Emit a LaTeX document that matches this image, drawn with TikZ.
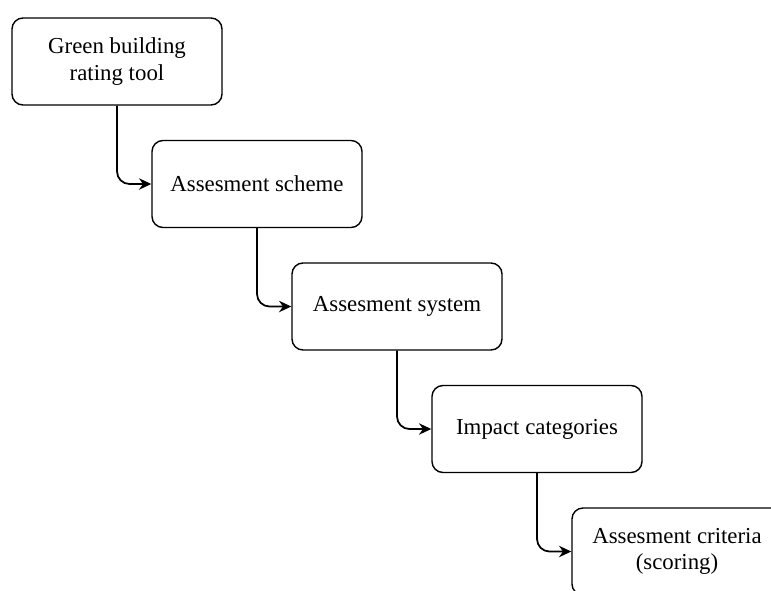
\documentclass[tikz,border=0pt]{standalone}
\usepackage{fontspec}
\setmainfont{Liberation Serif}
\usetikzlibrary{arrows.meta}

\begin{document}
\begin{tikzpicture}[
    level/.style={draw, line width=0.8pt, rounded corners=0.22cm,
      minimum width=4.2cm, minimum height=1.74cm, align=center,
      font=\fontsize{13}{15}\selectfont},
    link/.style={line width=1pt, rounded corners=0.25cm,
      -{Stealth[length=7pt,width=6.5pt]}}
  ]
  \useasboundingbox (0,0) rectangle (15.42,-11.8);

  % levels of the rating tool
  \node[level] (Tool)     at (2.34,-1.23)  {Green building\\ rating tool};
  \node[level] (Scheme)   at (5.14,-3.68)  {Assesment scheme};
  \node[level] (System)   at (7.94,-6.13)  {Assesment system};
  \node[level] (Impact)   at (10.74,-8.58) {Impact categories};
  \node[level] (Criteria) at (13.54,-11.03) {Assesment criteria\\ (scoring)};

  % connectors
  \draw[link] (Tool.south)   |- (Scheme.west);
  \draw[link] (Scheme.south) |- (System.west);
  \draw[link] (System.south) |- (Impact.west);
  \draw[link] (Impact.south) |- (Criteria.west);
\end{tikzpicture}
\end{document}
